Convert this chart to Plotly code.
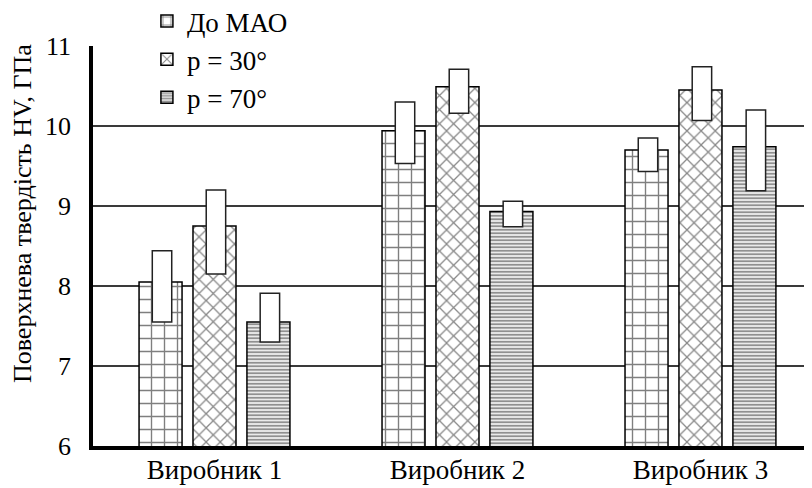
import plotly.graph_objects as go

categories = ["Виробник 1", "Виробник 2", "Виробник 3"]
series_names = ["До МАО", "p = 30°", "p = 70°"]
values_before = [8.05, 9.94, 9.70]
values_p30 = [8.75, 10.49, 10.45]
values_p70 = [7.55, 8.93, 9.74]
err_low_before = [7.55, 9.53, 9.43]
err_high_before = [8.44, 10.30, 9.85]
err_low_p30 = [8.15, 10.16, 10.07]
err_high_p30 = [9.20, 10.71, 10.74]
err_low_p70 = [7.30, 8.74, 9.19]
err_high_p70 = [7.91, 9.06, 10.20]
y_ticks = [6, 7, 8, 9, 10, 11]
y_title = "Поверхнева твердість HV, ГПа"

FONT = "Liberation Serif"
series = [
    (series_names[0], values_before, err_low_before, err_high_before, "+", 13, 0.2, "black"),
    (series_names[1], values_p30, err_low_p30, err_high_p30, "x", 10, 0.24, "#111"),
    (series_names[2], values_p70, err_low_p70, err_high_p70, "-", 3.5, 0.6, "#222"),
]
shifts = [-0.222, 0.0, 0.222]
bw = 0.177
ew = 0.08

fig = go.Figure()
for (name, vals, lo, hi, shape, size, sol, fg), d in zip(series, shifts):
    fig.add_trace(go.Bar(
        x=categories, y=vals, name=name, width=bw, offset=d - bw / 2,
        marker=dict(color="white", line=dict(color="black", width=1.5),
                    pattern=dict(shape=shape, size=size, solidity=sol,
                                 fgcolor=fg, bgcolor="white", fillmode="overlay")),
    ))
for (name, vals, lo, hi, shape, size, sol, fg), d in zip(series, shifts):
    fig.add_trace(go.Bar(
        x=categories, y=[h - l for l, h in zip(lo, hi)], base=lo,
        width=ew, offset=d - ew / 2 + 0.006, showlegend=False,
        marker=dict(color="white", line=dict(color="#222", width=1.5)),
        hoverinfo="skip",
    ))

fig.update_layout(
    width=812, height=488,
    margin=dict(l=85, r=8, t=38, b=50, autoexpand=False),
    paper_bgcolor="white", plot_bgcolor="white",
    barmode="overlay",
    font=dict(family=FONT, size=26, color="black"),
    legend=dict(x=0.075, y=1.1225, xanchor="left", yanchor="top",
                bgcolor="white", borderwidth=0, traceorder="normal",
                font=dict(family=FONT, size=27, color="black")),
    showlegend=True,
    annotations=[dict(
        text=y_title, xref="paper", yref="paper", x=-0.0987, y=0.58,
        xanchor="center", yanchor="middle", textangle=-90, showarrow=False,
        font=dict(family=FONT, size=26, color="black"),
    )],
)
fig.update_xaxes(
    range=[-0.5, 2.459], showgrid=False, showline=True, linecolor="black",
    linewidth=3.5, ticks="", ticklabelstandoff=-3,
    tickfont=dict(family=FONT, size=27, color="black"),
)
fig.update_yaxes(
    range=[6, 11], tickvals=y_ticks, showgrid=True, gridcolor="#3a3a3a",
    gridwidth=1.5, showline=True, linecolor="black", linewidth=3.5,
    ticks="", ticklabelstandoff=13, zeroline=False,
    tickfont=dict(family=FONT, size=26, color="black"),
)
fig.write_html("out.html")
